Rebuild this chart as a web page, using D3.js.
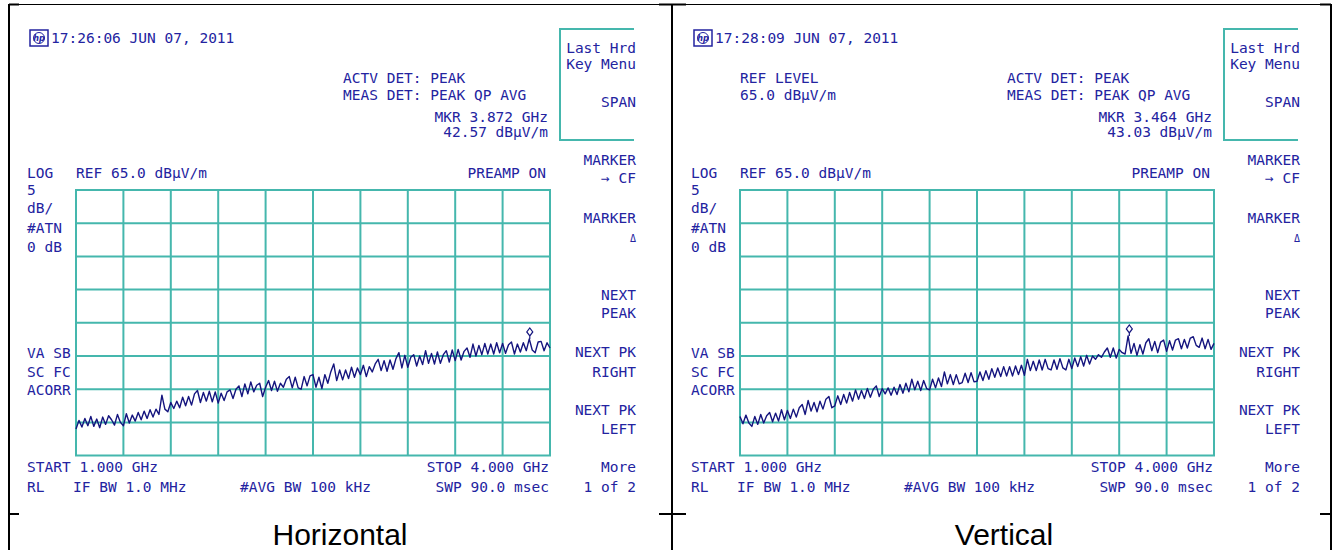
<!DOCTYPE html>
<html>
<head>
<meta charset="utf-8">
<script src="https://cdn.jsdelivr.net/npm/d3@7"></script>
<style>
  body { margin: 0; background: #fff; }
  text.hp { font-family: "DejaVu Sans Mono", monospace; font-size: 14.5px; fill: #2323a0; }
  text.cap { font-family: Arial, "Liberation Sans", sans-serif; font-size: 30px; fill: #000; }
</style>
</head>
<body>
<div id="chart"></div>
<script>
// sweep settings (same for both screens)
const freqStart = 1.0, freqStop = 4.0;     // GHz
const refLevel = 65, dbPerDiv = 5;         // dBuV/m
const nDivX = 10, nDivY = 8;

// trace levels, dBuV/m, 161 sweep points
const levelsHorizontal = [
  29.0, 30.3, 29.3, 30.6, 29.5, 30.9, 29.4, 30.5, 29.2, 30.8,
  29.7, 31.0, 30.4, 29.6, 31.2, 30.0, 29.5, 31.3, 29.9, 31.1,
  30.2, 31.5, 30.4, 31.7, 30.6, 31.9, 30.8, 32.0, 31.2, 34.1,
  32.0, 31.6, 33.0, 32.1, 33.2, 32.2, 33.8, 32.5, 33.9, 32.6,
  34.3, 34.8, 33.0, 34.5, 33.2, 34.7, 33.1, 34.6, 32.9, 34.4,
  33.3, 34.6, 34.9, 33.6, 35.0, 35.5, 33.9, 35.8, 34.3, 36.1,
  34.6, 35.6, 35.9, 33.9, 35.3, 36.3, 34.8, 36.2, 34.7, 35.9,
  35.3, 36.5, 36.9, 35.2, 36.8, 35.2, 35.0, 36.9, 35.5, 37.0,
  37.2, 35.3, 36.8, 35.1, 37.2, 35.9, 37.6, 38.8, 36.3, 37.9,
  36.4, 37.9, 36.6, 38.3, 36.8, 38.2, 37.2, 38.6, 36.9, 38.4,
  37.6, 38.8, 39.5, 37.8, 39.3, 37.7, 39.4, 38.0, 39.6, 40.5,
  38.2, 40.1, 38.3, 39.8, 40.2, 38.5, 40.0, 38.7, 40.8, 38.9,
  40.4, 38.8, 40.6, 38.9, 40.2, 40.8, 39.1, 40.9, 39.3, 41.0,
  39.4, 40.7, 41.2, 39.8, 41.8, 40.0, 41.6, 40.2, 41.9, 40.3,
  41.8, 40.3, 42.0, 40.5, 41.9, 40.4, 41.7, 42.1, 40.3, 41.8,
  40.6, 42.0, 40.8, 42.57, 40.9, 40.5, 42.1, 42.2, 40.8, 42.0,
  41.2
];
const levelsVertical = [
  30.9, 29.8, 31.1, 29.9, 29.4, 30.9, 29.7, 31.2, 29.9, 31.0,
  31.5, 30.1, 31.4, 30.2, 31.9, 30.4, 31.8, 30.6, 32.0, 30.8,
  32.2, 32.7, 31.2, 33.3, 31.7, 33.0, 31.6, 33.2, 32.0, 33.5,
  33.9, 32.2, 32.5, 34.0, 32.7, 34.2, 32.9, 34.5, 33.2, 34.9,
  33.5, 34.8, 33.6, 35.1, 33.8, 35.0, 35.5, 33.9, 35.1, 34.3,
  35.2, 34.1, 35.3, 34.2, 35.7, 34.4, 35.9, 34.6, 36.5, 34.9,
  36.2, 34.8, 36.3, 35.1, 34.9, 36.5, 35.2, 36.7, 35.4, 37.6,
  35.8, 37.2, 35.7, 37.2, 35.8, 36.0, 37.4, 36.0, 37.5, 36.1,
  36.2, 37.6, 36.3, 37.8, 36.5, 38.1, 36.8, 38.2, 36.9, 38.4,
  37.0, 38.4, 37.0, 38.5, 37.2, 38.6, 37.1, 39.5, 37.8, 39.2,
  37.8, 39.4, 37.9, 39.5, 38.1, 37.9, 39.4, 38.0, 39.6, 38.2,
  37.9, 39.5, 38.1, 39.7, 38.4, 39.9, 38.5, 40.1, 38.8, 40.0,
  39.5, 40.2, 39.8, 40.6, 41.2, 39.8, 41.2, 39.7, 41.0, 40.5,
  40.3, 43.03, 40.4, 41.9, 40.1, 41.7, 40.3, 42.0, 42.6, 40.8,
  42.2, 40.5, 42.1, 42.4, 40.7, 42.3, 40.9, 42.4, 42.6, 41.1,
  42.5, 41.2, 42.7, 42.9, 41.6, 41.3, 42.7, 41.1, 42.5, 41.0,
  41.9
];

const markerFreqs = [3.872, 3.464];
const markerLevels = [42.57, 43.03];
const timestamps = ["17:26:06 JUN 07, 2011", "17:28:09 JUN 07, 2011"];
const captions = ["Horizontal", "Vertical"];
const softKeys = ["Last Hrd", "Key Menu", "SPAN", "MARKER", "\u2192 CF", "MARKER", "\u0394",
                  "NEXT", "PEAK", "NEXT PK", "RIGHT", "NEXT PK", "LEFT", "More", "1 of 2"];
const leftAnnot = ["LOG", "5", "dB/", "#ATN", "0 dB", "VA SB", "SC FC", "ACORR"];

const textCol = "#2323a0", traceCol = "#14147e", gridCol = "#45b7ad";

const svg = d3.select("#chart").append("svg")
  .attr("width", 1335).attr("height", 550);

// table borders around the two screenshots
const border = svg.append("g").attr("stroke", "#000").attr("fill", "none");
border.append("line").attr("x1", 9).attr("x2", 1331).attr("y1", 4.5).attr("y2", 4.5).attr("stroke-width", 1);
[9, 672, 1331].forEach(bx => {
  border.append("line").attr("x1", bx).attr("x2", bx).attr("y1", 4).attr("y2", 550).attr("stroke-width", 2);
});
[[9, 19], [659, 686], [1320, 1331]].forEach(s => {
  border.append("line").attr("x1", s[0]).attr("x2", s[1]).attr("y1", 4.5).attr("y2", 4.5).attr("stroke-width", 2);
  border.append("line").attr("x1", s[0]).attr("x2", s[1]).attr("y1", 514).attr("y2", 514).attr("stroke-width", 2);
});

function hpText(g, str, x, y, anchor) {
  return g.append("text").attr("class", "hp")
    .attr("x", x).attr("y", y)
    .attr("text-anchor", anchor || "start")
    .text(str);
}

function drawPanel(i) {
  const levels = i === 0 ? levelsHorizontal : levelsVertical;
  const g = svg.append("g").attr("transform", "translate(" + (i * 664) + ",0)");

  const x = d3.scaleLinear().domain([freqStart, freqStop]).range([76, 550]);
  const y = d3.scaleLinear().domain([refLevel - nDivY * dbPerDiv, refLevel]).range([455.6, 190]);
  const pt = d3.scaleLinear().domain([0, levels.length - 1]).range([freqStart, freqStop]);

  // graticule
  const grid = g.append("g").attr("stroke", gridCol).attr("stroke-width", 2);
  grid.selectAll("line.v").data(d3.range(nDivX + 1)).enter().append("line")
    .attr("x1", d => x(freqStart + d * (freqStop - freqStart) / nDivX))
    .attr("x2", d => x(freqStart + d * (freqStop - freqStart) / nDivX))
    .attr("y1", y.range()[1]).attr("y2", y.range()[0]);
  grid.selectAll("line.h").data(d3.range(nDivY + 1)).enter().append("line")
    .attr("x1", x.range()[0] - 1).attr("x2", x.range()[1] + 1)
    .attr("y1", d => y(refLevel - d * dbPerDiv))
    .attr("y2", d => y(refLevel - d * dbPerDiv));

  // softkey box
  g.append("path")
    .attr("d", "M634,29H560V140H634")
    .attr("fill", "none").attr("stroke", gridCol).attr("stroke-width", 2);

  // trace
  const line = d3.line()
    .x((d, k) => x(pt(k)))
    .y(d => y(d));
  g.append("path").datum(levels)
    .attr("d", line)
    .attr("fill", "none")
    .attr("stroke", traceCol)
    .attr("stroke-width", 1.4)
    .attr("stroke-linejoin", "round");

  // marker diamond
  const mx = x(markerFreqs[i]), my = y(markerLevels[i]);
  g.append("path")
    .attr("d", `M${mx},${my}V${my - 3}M${mx},${my - 3}l-3,-4l3,-4l3,4z`)
    .attr("fill", "#fff").attr("stroke", traceCol).attr("stroke-width", 1.2);

  // hp logo
  g.append("rect").attr("x", 30).attr("y", 30).attr("width", 18).attr("height", 16)
    .attr("fill", "none").attr("stroke", textCol).attr("stroke-width", 1.5);
  g.append("circle").attr("cx", 39).attr("cy", 38).attr("r", 5.5)
    .attr("fill", "none").attr("stroke", textCol).attr("stroke-width", 1);
  g.append("text").attr("x", 39).attr("y", 41).attr("text-anchor", "middle")
    .style("font", "italic bold 8px 'DejaVu Sans'").attr("fill", textCol).text("hp");

  hpText(g, timestamps[i], 51, 43);

  if (i === 1) {
    hpText(g, "REF LEVEL", 76, 83);
    hpText(g, "65.0 dB\u00b5V/m", 76, 100);
  }
  hpText(g, "ACTV DET: PEAK", 343, 83);
  hpText(g, "MEAS DET: PEAK QP AVG", 343, 100);
  hpText(g, "MKR " + markerFreqs[i].toFixed(3) + " GHz", 548, 122, "end");
  hpText(g, markerLevels[i].toFixed(2) + " dB\u00b5V/m", 548, 137, "end");

  hpText(g, "REF " + refLevel.toFixed(1) + " dB\u00b5V/m", 76, 178);
  hpText(g, "PREAMP ON", 546, 178, "end");

  const leftY = [178, 195, 213, 233, 252, 358, 377, 395];
  leftAnnot.forEach((s, k) => hpText(g, s, 27, leftY[k]));

  const keyY = [53, 69, 107, 165, 183, 223, 242, 300, 318, 357, 377, 415, 434, 472, 492];
  softKeys.forEach((s, k) => {
    const t = hpText(g, s, 636, keyY[k], "end");
    if (s === "\u0394") t.style("font-size", "10px");
  });

  hpText(g, "START " + freqStart.toFixed(3) + " GHz", 27, 472);
  hpText(g, "STOP " + freqStop.toFixed(3) + " GHz", 549, 472, "end");
  hpText(g, "RL", 27, 492);
  hpText(g, "IF BW 1.0 MHz", 73, 492);
  hpText(g, "#AVG BW 100 kHz", 240, 492);
  hpText(g, "SWP 90.0 msec", 549, 492, "end");

  g.append("text").attr("class", "cap")
    .attr("x", 340).attr("y", 545).attr("text-anchor", "middle")
    .text(captions[i]);
}

drawPanel(0);
drawPanel(1);
</script>
</body>
</html>
